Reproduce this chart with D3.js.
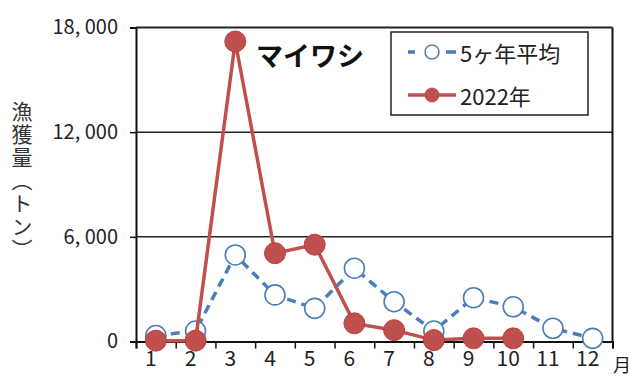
<!DOCTYPE html>
<html>
<head>
<meta charset="utf-8">
<script src="https://cdn.jsdelivr.net/npm/d3@7/dist/d3.min.js"></script>
<style>
  html, body { margin: 0; padding: 0; background: #fff; }
  svg { display: block; }
  text { font-family: "Noto Sans CJK JP", "Noto Sans", sans-serif; fill: #111; }
</style>
</head>
<body>
<svg id="chart" width="630" height="378"></svg>
<script>
// Monthly sardine catch (tons): 5-year average vs 2022
const months = ["1", "2", "3", "4", "5", "6", "7", "8", "9", "10", "11", "12"];
const avg5 = [340, 600, 4960, 2670, 1900, 4200, 2280, 600, 2510, 1990, 760, 180];
const y2022 = [50, 50, 17200, 5060, 5550, 1040, 650, 80, 180, 180];
const yTicks = [0, 6000, 12000, 18000];
const seriesNames = ["5ヶ年平均", "2022年"];
const title = "マイワシ";
const yTitle = "漁獲量（トン）";
const xUnit = "月";

const blue = "#4A7EBB";
const red = "#C0504D";

const svg = d3.select("#chart");
const plot = { left: 136, right: 612.5, top: 27.5, bottom: 341.5 };

const x = d3.scaleBand().domain(months).range([plot.left, plot.right]).padding(0);
const xEdge = d3.scaleLinear().domain([0, 12]).range([plot.left, plot.right]);
const y = d3.scaleLinear().domain([0, 18000]).range([plot.bottom, plot.top]);

// horizontal gridlines
svg.append("g")
  .selectAll("line")
  .data(yTicks.filter(d => d > 0))
  .join("line")
  .attr("x1", plot.left).attr("x2", plot.right)
  .attr("y1", d => y(d)).attr("y2", d => y(d))
  .attr("stroke", "#222").attr("stroke-width", d => d === 18000 ? 2 : 1.5);

// right frame edge
svg.append("line")
  .attr("x1", plot.right).attr("x2", plot.right)
  .attr("y1", plot.top).attr("y2", plot.bottom)
  .attr("stroke", "#111").attr("stroke-width", 2);

// y axis
const yAxis = svg.append("g")
  .attr("transform", `translate(${plot.left},0)`)
  .call(d3.axisLeft(y).tickValues(yTicks).tickSize(6).tickPadding(12)
    .tickFormat(d => d3.format(",")(d).replace(",", ", ")));
yAxis.select(".domain").attr("stroke", "#111").attr("stroke-width", 2);
yAxis.selectAll(".tick line").attr("stroke", "#111").attr("stroke-width", 1.5);
yAxis.selectAll(".tick text")
  .style("font-size", "20px").attr("fill", "#222").style("fill", "#222");

// x axis: tick marks at month boundaries
const xTickAxis = svg.append("g")
  .attr("transform", `translate(0,${plot.bottom})`)
  .call(d3.axisBottom(xEdge).tickValues(d3.range(0, 13)).tickSize(7).tickFormat(""));
xTickAxis.select(".domain").attr("stroke", "#111").attr("stroke-width", 2);
xTickAxis.selectAll(".tick line").attr("stroke", "#111").attr("stroke-width", 1.5);

// x axis: month labels centred in each band
const xLabelAxis = svg.append("g")
  .attr("transform", `translate(0,${plot.bottom})`)
  .call(d3.axisBottom(x).tickSize(0).tickPadding(10));
xLabelAxis.select(".domain").remove();
xLabelAxis.selectAll(".tick text")
  .attr("dx", -5)
  .style("font-size", "21px").style("fill", "#222");

svg.append("text")
  .attr("x", 613).attr("y", 372)
  .style("font-size", "18px").style("fill", "#222")
  .text(xUnit);

// y axis title, vertical
svg.append("text")
  .attr("x", 22).attr("y", 101)
  .style("writing-mode", "vertical-rl")
  .style("font-size", "21px").style("fill", "#333")
  .style("letter-spacing", "2px")
  .text(yTitle);

// 5-year average series
const cx = (d, i) => x(months[i]) + x.bandwidth() / 2;
const lineGen = d3.line().x(cx).y(d => y(d));

svg.append("path")
  .datum(avg5)
  .attr("d", lineGen)
  .attr("fill", "none")
  .attr("stroke", blue).attr("stroke-width", 3.5)
  .attr("stroke-dasharray", "9,6");

svg.append("g")
  .selectAll("circle")
  .data(avg5)
  .join("circle")
  .attr("cx", cx).attr("cy", d => y(d)).attr("r", 10)
  .attr("fill", "#fff").attr("stroke", blue).attr("stroke-width", 1.6);

// 2022 series
svg.append("path")
  .datum(y2022)
  .attr("d", lineGen)
  .attr("fill", "none")
  .attr("stroke", red).attr("stroke-width", 3.5);

svg.append("g")
  .selectAll("circle")
  .data(y2022)
  .join("circle")
  .attr("cx", cx).attr("cy", d => y(d)).attr("r", 10.5)
  .attr("fill", red).attr("stroke", "#B8403D").attr("stroke-width", 1);

// chart title
svg.append("text")
  .attr("x", 256).attr("y", 54)
  .attr("dominant-baseline", "central")
  .style("font-size", "27px").style("font-weight", "bold").style("fill", "#111")
  .text(title);

// legend
const legend = svg.append("g");
legend.append("rect")
  .attr("x", 391).attr("y", 32).attr("width", 197).attr("height", 83)
  .attr("fill", "#fff").attr("stroke", "#222").attr("stroke-width", 1.5);

const rows = [
  { name: seriesNames[0], color: blue, dashed: true, yy: 52 },
  { name: seriesNames[1], color: red, dashed: false, yy: 95 }
];
rows.forEach(r => {
  legend.append("line")
    .attr("x1", 408).attr("x2", 456).attr("y1", r.yy).attr("y2", r.yy)
    .attr("stroke", r.color).attr("stroke-width", 3.5)
    .attr("stroke-dasharray", r.dashed ? "7,17,7" : null);
  legend.append("circle")
    .attr("cx", 432).attr("cy", r.yy).attr("r", 7)
    .attr("fill", r.dashed ? "#fff" : r.color)
    .attr("stroke", r.color).attr("stroke-width", r.dashed ? 1.5 : 1);
  legend.append("text")
    .attr("x", 460).attr("y", r.yy)
    .attr("dominant-baseline", "central")
    .style("font-size", "22px").style("fill", "#222")
    .text(r.name);
});
</script>
</body>
</html>
